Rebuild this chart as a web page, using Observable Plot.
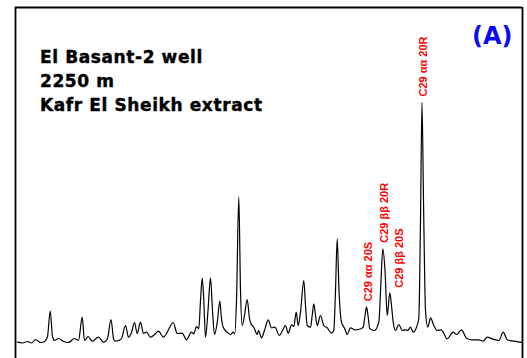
<!DOCTYPE html>
<html>
<head>
<meta charset="utf-8">
<script src="https://cdn.jsdelivr.net/npm/d3@7"></script>
<script src="https://cdn.jsdelivr.net/npm/@observablehq/plot@0.6"></script>
<style>
  body { margin: 0; background: #fff; }
</style>
</head>
<body>
<div id="chart"></div>
<script>
// m/z 217 trace: scan position and relative abundance
const scan = [
  17, 22, 27, 31, 35, 40, 44, 47, 49.7, 52, 54, 58, 63, 68, 74, 78, 81.7, 84, 87.7, 91.7,
  98, 103, 107, 110.5, 113, 114.5, 118, 121, 125, 128, 131, 134, 136.7, 140, 143, 146, 150, 154, 158, 163,
  166, 169, 172.7, 176.7, 181.7, 186, 191, 193.3, 196, 198.3, 200, 201.7, 203.3, 205, 207.5, 210, 212, 214, 217, 219.3,
  221, 222.7, 226.7, 230, 232.7, 234.3, 236, 238.3, 240, 241.7, 244, 246.7, 249, 250.5, 253.3, 256.7, 258, 261, 264, 267.7,
  271, 274.3, 279, 282, 285, 287.7, 291, 293.3, 295.7, 297.7, 300, 303.3, 305, 306.7, 310, 311.7, 313.3, 315, 316.7, 320,
  323.3, 326.7, 331, 333.3, 335, 336.7, 338.5, 341, 344.3, 346.7, 350, 354.3, 358, 362.7, 364.5, 366, 367.5, 369.3, 374, 378.3,
  380.5, 382.3, 384.5, 386.7, 389.3, 391, 392.7, 395, 398.3, 401.7, 405, 407.3, 410, 412.7, 416, 418.3, 420, 421.5, 423, 425,
  427.3, 430, 433.3, 436.7, 440.7, 442.7, 446.7, 452.7, 456, 461, 466, 471.7, 478.3, 482.7, 486.7, 491.7, 498.3, 502.7, 506.7, 513.3,
  520, 522
];
const abundance = [
  3.3, 2.5, 4, 2.5, 6, 3, 4, 9, 34.3, 9, 5, 7, 4, 3, 7, 5, 28.3, 5, 9, 4.3,
  8.3, 3.3, 7, 26, 7, 4.3, 5, 7, 20, 8.3, 13, 23, 12, 23.3, 12, 13.3, 8.3, 11, 14.3, 8.3,
  12, 17.7, 23, 12, 12.3, 5.7, 13.3, 11.7, 19, 16.7, 45, 67.3, 45, 8.3, 35, 67.7, 35, 11, 25, 44.3,
  27, 18.3, 13.3, 11, 13.3, 11.7, 45, 148.3, 55, 20, 30, 46, 27, 21.7, 18.3, 11, 15, 7.7, 15, 25.7,
  17.7, 18.3, 10, 15, 20, 12.3, 20.7, 19, 33.3, 20, 33.3, 65, 40, 20, 18.3, 30, 41.7, 30, 20, 30,
  20, 17.7, 12.3, 15, 55, 106.7, 55, 23.3, 16.7, 11, 17.7, 15.7, 16, 18.3, 30, 38.3, 30, 16.7, 15, 23.3,
  65, 96.7, 75, 30, 52.7, 40, 23.3, 15, 21, 15, 15.7, 15, 18.3, 13.3, 18.3, 27, 125, 243, 145, 35,
  18.3, 27.7, 20, 15, 15.7, 13.3, 6.7, 13.3, 11, 15.7, 7.3, 5.7, 5.7, 4.3, 8.3, 6.7, 5, 13.3, 5.7, 4.3,
  3.3, 3
];

// Identified C29 sterane peaks
const compounds = ["C29 αα 20S", "C29 ββ 20R", "C29 ββ 20S", "C29 αα 20R"];
const compoundScan = [366, 382.3, 389.3, 421.5];

const wellInfo = ["El Basant-2 well", "2250 m", "Kafr El Sheikh extract"];
const panelTag = "(A)";

const trace = scan.map((s, i) => ({scan: s, abundance: abundance[i]}));
const peaks = compounds.map((name, i) => ({
  name,
  scan: compoundScan[i],
  abundance: abundance[scan.indexOf(compoundScan[i])]
}));

const xMin = 15, xMax = 522, yMin = -13, yMax = 338;

const labelStyle = {
  text: "name",
  rotate: -90,
  textAnchor: "start",
  lineAnchor: "middle",
  fill: "#ff0000",
  fontFamily: "'Liberation Sans', Arial, sans-serif",
  fontWeight: "bold",
  fontSize: 11
};

const chart = Plot.plot({
  width: 527,
  height: 358,
  marginLeft: 15,
  marginRight: 5,
  marginTop: 7,
  marginBottom: 0,
  x: {domain: [xMin, xMax], axis: null},
  y: {domain: [yMin, yMax], axis: null},
  marks: [
    Plot.ruleX([xMin, xMax], {stroke: "#000", strokeWidth: 1.8}),
    Plot.ruleY([yMax], {stroke: "#000", strokeWidth: 1.8}),
    Plot.line(trace, {x: "scan", y: "abundance", curve: "monotone-x", stroke: "#000", strokeWidth: 1.2}),
    Plot.text(peaks.filter(d => d.name !== "C29 ββ 20S"), {...labelStyle, x: "scan", y: "abundance", dx: 1.5, dy: -6}),
    Plot.text(peaks.filter(d => d.name === "C29 ββ 20S"), {...labelStyle, x: "scan", y: "abundance", dx: 10, dy: -5}),
    Plot.text([wellInfo.join("\n")], {
      frameAnchor: "top-left",
      textAnchor: "start",
      lineAnchor: "top",
      lineHeight: 1.43,
      dx: 24.5,
      dy: 38,
      fill: "#000",
      stroke: "#000",
      strokeWidth: 0.4,
      fontFamily: "'DejaVu Sans', Verdana, sans-serif",
      fontWeight: "bold",
      fontSize: 17
    }),
    Plot.text([panelTag], {
      frameAnchor: "top-right",
      textAnchor: "end",
      lineAnchor: "top",
      dx: -10,
      dy: 19,
      fill: "#0a0af5",
      fontFamily: "'DejaVu Sans', Verdana, sans-serif",
      fontWeight: "bold",
      fontSize: 24
    })
  ]
});

// widen the tracking of the well description block
d3.select(chart).selectAll("text")
  .filter(function() { return this.textContent.startsWith(wellInfo[0]); })
  .attr("letter-spacing", "0.6px");

document.getElementById("chart").appendChild(chart);
</script>
</body>
</html>
